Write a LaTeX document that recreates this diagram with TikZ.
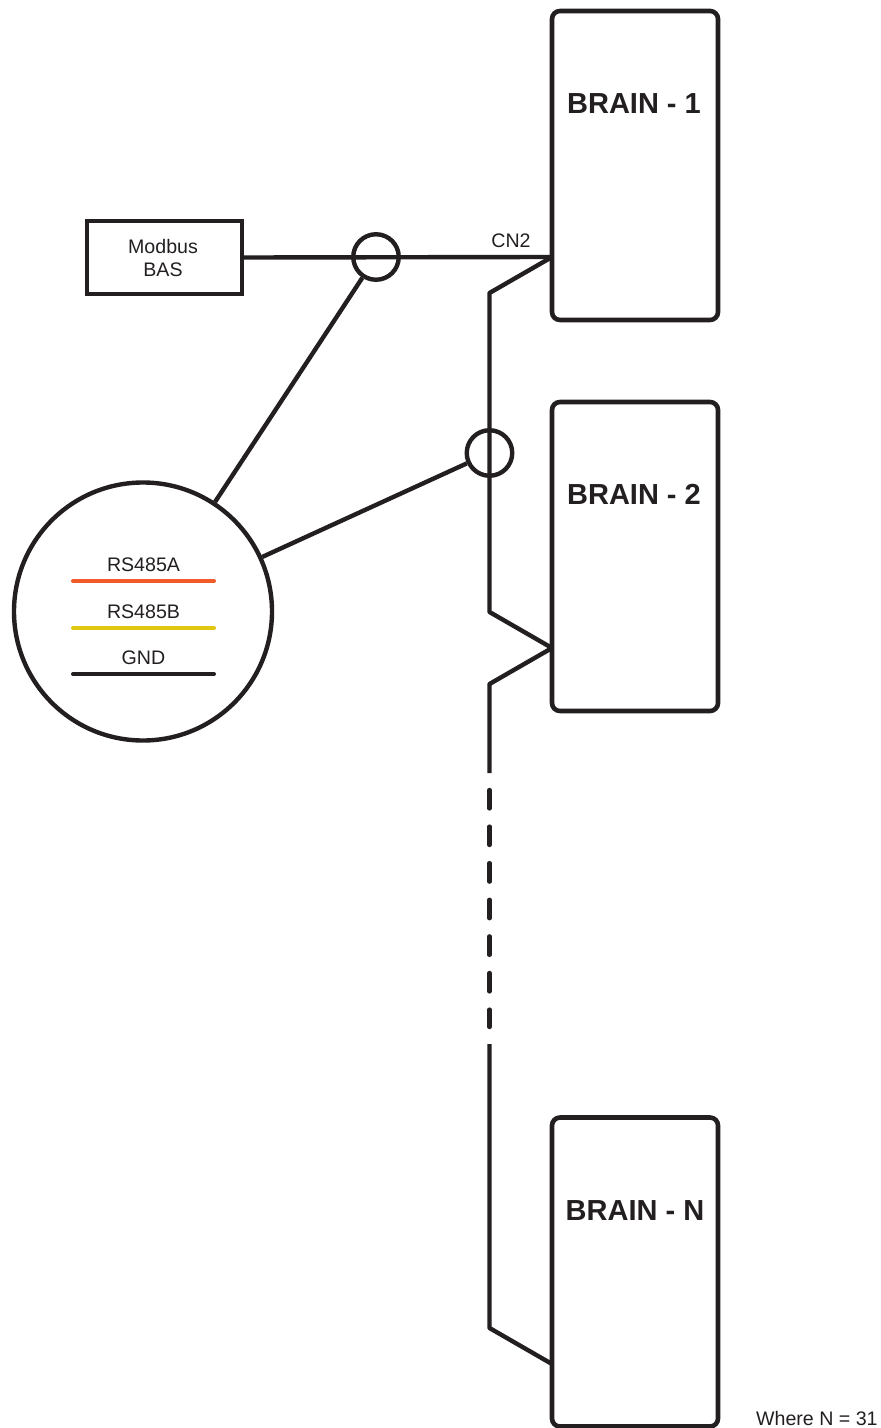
\documentclass[tikz,border=0pt]{standalone}
\usepackage{fontspec}
\setmainfont{Liberation Sans}
\usepackage{xcolor}
\usetikzlibrary{positioning, calc}
\definecolor{inkdark}{HTML}{231F20}
\definecolor{wireorange}{HTML}{F15A29}
\definecolor{wireyellow}{HTML}{DFC80F}

\tikzset{
    brainbox/.style={draw=inkdark, line width=2.3pt, rounded corners=4pt, minimum width=83pt, minimum height=154.5pt, inner sep=0pt},
    brainlabel/.style={font=\fontsize{14.5pt}{16pt}\selectfont\bfseries, text=inkdark, inner sep=0pt},
    smalllabel/.style={font=\fontsize{9.8pt}{11.5pt}\selectfont, text=inkdark, inner sep=0pt, align=center},
    wire/.style={draw=inkdark, line width=2.2pt, line join=bevel},
    tap/.style={circle, draw=inkdark, line width=2.2pt, minimum size=45.5*0.5pt, inner sep=0pt},
    cablewire/.style={line width=2pt, line cap=round}
}

\begin{document}
\begin{tikzpicture}[x=0.5pt, y=-0.5pt]
\useasboundingbox (0,0) rectangle (880,1428);

% Brains
\node[brainbox] (brainone) at (635,165.5) {};
\node[brainbox] (braintwo) at (635,556.5) {};
\node[brainbox] (brainn) at (635,1272) {};
\node[brainlabel] (brainonetext) at (634,104) {BRAIN - 1};
\node[brainlabel] (braintwotext) at (634,494.5) {BRAIN - 2};
\node[brainlabel] (brainntext) at (635,1210.5) {BRAIN - N};

% Modbus box
\node[draw=inkdark, line width=2.2pt, minimum width=77.5pt, minimum height=36.5pt, inner sep=0pt] (modbus) at (164.5,257.5) {};
\node[smalllabel] (modbustext) at (163,257.5) {Modbus\\BAS};

% Tap circles and cable section
\node[tap] (tapone) at (376,257) {};
\node[tap] (taptwo) at (489.5,453) {};
\node[circle, draw=inkdark, line width=2.2pt, minimum size=129pt, inner sep=0pt] (cable) at (143,611.5) {};

% Attachment points on the bus
\coordinate (cnone) at (552,257);
\coordinate (cntwo) at (552,648);
\coordinate (cnn) at (552,1364);
\coordinate (busonebend) at (489.5,293);
\coordinate (busdowntwo) at (489.5,612);
\coordinate (busouttwo) at (489.5,684);
\coordinate (dashstart) at (489.5,773);
\coordinate (dotsfrom) at (489.5,790);
\coordinate (dotsto) at (489.5,1027);
\coordinate (dashend) at (489.5,1044);
\coordinate (busdownn) at (489.5,1328);

% Connectors
\draw[wire] (modbus.east) -- (cnone);
\draw[wire] (cnone) -- (busonebend) -- (busdowntwo) -- (cntwo) -- (busouttwo) -- (dashstart);
\draw[wire, line cap=round, dash pattern=on 9.2pt off 9.1pt] (dotsfrom) -- (dotsto);
\draw[wire] (dashend) -- (busdownn) -- (cnn);
\draw[wire] (cable) -- (tapone);
\draw[wire] (cable) -- (taptwo);

% Cable legend
\node[smalllabel] (rsatext) at (143.5,565) {RS485A};
\node[smalllabel] (rsbtext) at (143.5,611.5) {RS485B};
\node[smalllabel] (gndtext) at (143.5,657.5) {GND};
\coordinate (rsaleft) at (73,581);
\coordinate (rsaright) at (214,581);
\coordinate (rsbleft) at (73,628);
\coordinate (rsbright) at (214,628);
\coordinate (gndleft) at (73,674);
\coordinate (gndright) at (214,674);
\draw[cablewire, wireorange] (rsaleft) -- (rsaright);
\draw[cablewire, wireyellow] (rsbleft) -- (rsbright);
\draw[cablewire, inkdark] (gndleft) -- (gndright);

% Other labels
\node[smalllabel] (cntext) at (511,240.5) {CN2};
\node[smalllabel, anchor=east] (wheretext) at (878,1418) {Where N = 31};
\end{tikzpicture}
\end{document}
